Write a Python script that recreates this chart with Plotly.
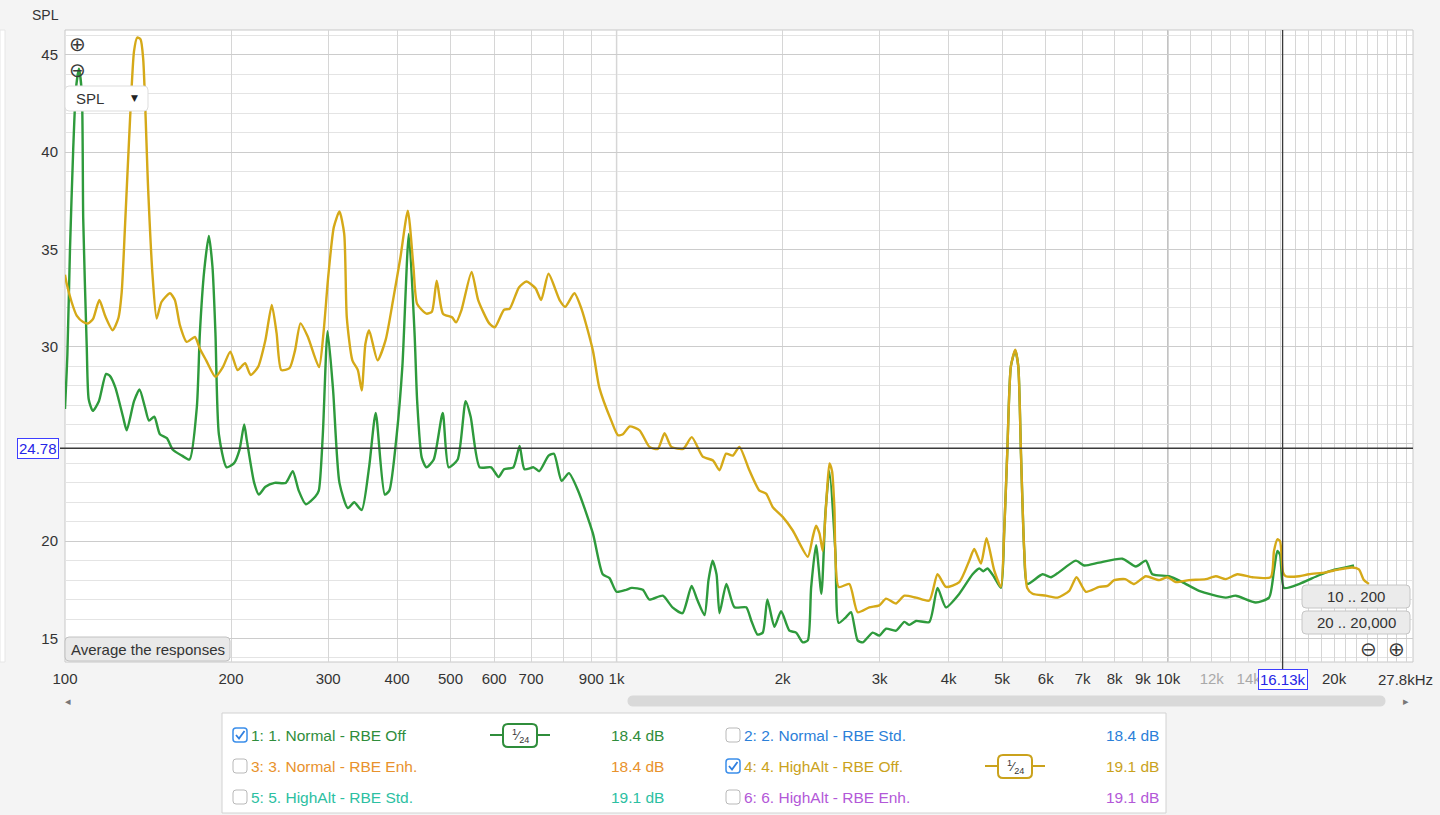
import plotly.graph_objects as go
import math

W, H = 1440, 815
PX0, PX1, PY0, PY1 = 65, 1413, 30, 662
FONT = "Liberation Sans, Arial, sans-serif"

# ---------------- data ----------------
green_freq = [100, 101.0, 102.1, 103.5, 104.7, 106.0, 107.3, 107.9, 109.5, 110.4, 112.3, 115.2, 118.7,
              120.6, 123.4, 127.4, 129.4, 133.4, 136.5, 139.6, 142.0, 145.2, 148.6, 153.0, 156.9, 162.9,
              168.2, 173.4, 175.6, 178.8, 182.3, 185.1, 187.4, 190.1, 196.3, 202.4, 207.2, 211.3, 213.6,
              220.3, 224.6, 230.9, 239.9, 251.4, 258.8, 265.3, 273.3, 284.4, 288.5, 293.4, 299.3, 306.2,
              314.5, 325.7, 334.5, 345.1, 355.9, 365.9, 380.0, 387.3, 399.5, 409.0, 420.1, 430.3, 435.0,
              443.4, 452.2, 466.2, 484.0, 496.1, 515.2, 532.6, 543.9, 564.7, 592.4, 611.2, 625.2, 650.0,
              667.3, 680.8, 707.3, 724.1, 753.0, 770.2, 795.0, 819.6, 851.7, 906.0, 943.9, 971.1, 1000,
              1041, 1065, 1116, 1147, 1213, 1263, 1317, 1368, 1400, 1444, 1468, 1493, 1518, 1537, 1582,
              1636, 1718, 1756, 1801, 1841, 1877, 1933, 1988, 2058, 2116, 2176, 2222, 2253, 2300, 2352,
              2391, 2432, 2494, 2528, 2607, 2662, 2736, 2794, 2913, 2995, 3081, 3212, 3325, 3395, 3491,
              3690, 3819, 3956, 4183, 4421, 4546, 4623, 4705, 4839, 4977, 5045, 5109, 5188, 5283, 5350,
              5411, 5485, 5554, 5920, 6131, 6303, 6805, 7044, 7499, 8265, 8741, 9112, 9367, 10040, 10614,
              11381, 12720, 13264, 14416, 15241, 15560, 15781, 15960, 16226, 17277, 18772, 19846, 20985,
              21730]
green_db = [26.8, 29.6, 35.0, 40.2, 43.3, 44.3, 43.0, 36.6, 30.0, 27.3, 26.7, 27.2, 28.6,
            28.5, 27.9, 26.4, 25.7, 27.2, 27.8, 26.9, 26.2, 26.4, 25.5, 25.3, 24.7, 24.4,
            24.2, 26.9, 30.7, 33.9, 35.7, 34.1, 30.7, 25.5, 23.8, 24.0, 24.7, 26.0, 25.2,
            23.0, 22.4, 22.8, 23.0, 23.0, 23.6, 22.6, 21.9, 22.3, 22.6, 25.5, 30.8, 27.8,
            23.0, 21.7, 22.0, 21.6, 23.8, 26.6, 22.4, 22.6, 25.5, 29.0, 35.8, 30.7, 27.2,
            24.3, 23.8, 24.2, 26.6, 23.8, 24.2, 27.2, 26.4, 23.8, 23.8, 23.3, 23.7, 23.8,
            24.9, 23.7, 23.8, 23.6, 24.4, 24.5, 23.1, 23.5, 22.6, 20.4, 18.3, 18.1, 17.4,
            17.5, 17.6, 17.5, 17.0, 17.2, 16.6, 16.3, 17.7, 17.0, 16.2, 18.0, 19.0, 18.3, 16.3, 17.8,
            16.6, 16.6, 15.9, 15.2, 15.3, 17.0, 15.6, 16.4, 15.4, 15.3, 14.8, 14.9, 17.6, 19.8, 17.3,
            21.4, 23.6, 19.4, 15.8, 16.1, 16.35, 14.9, 14.8, 15.3, 15.15, 15.5, 15.4, 15.85, 15.7, 15.9,
            15.85, 17.6, 16.6, 17.3, 18.3, 18.6, 18.45, 18.6, 18.15, 17.6, 20.5, 24.5, 29.0, 29.8, 29.0,
            24.5, 19.5, 17.8, 18.3, 18.15, 18.35, 19.0, 18.75, 18.9, 19.1, 18.7, 19.0, 18.3, 18.2, 17.9,
            17.45, 17.1, 17.2, 16.85, 17.1, 18.5, 19.5, 19.3, 17.6, 17.8, 18.25, 18.5, 18.65,
            18.75]

yellow_freq = [100, 100.7, 102.8, 105.0, 107.9, 110.2, 112.5, 115.4, 118.2, 122.0, 124.9, 126.7, 128.5,
               131.2, 133.4, 135.2, 137.1, 138.6, 141.5, 144.1, 146.6, 149.6, 155.0, 158.2, 161.6, 166.2,
               172.0, 175.6, 180.3, 187.4, 193.3, 199.4, 205.6, 212.1, 217.0, 223.8, 230.9, 237.1, 241.9,
               246.7, 255.3, 261.2, 267.3, 275.7, 288.8, 294.2, 300.1, 307.2, 314.5, 320.8, 324.3, 331.9,
               339.6, 345.1, 350.5, 355.9, 368.7, 381.4, 393.4, 405.7, 418.4, 428.3, 435.0, 452.2, 462.6,
               472.0, 484.5, 503.8, 511.6, 523.6, 546.0, 561.2, 587.7, 601.6, 625.2, 640.0, 665.3, 686.2,
               713.1, 729.9, 752.7, 788.4, 807.1, 838.7, 865.0, 906.0, 930.6, 978.2, 1006, 1027, 1056,
               1101, 1147, 1188, 1222, 1257, 1321, 1369, 1433, 1496, 1537, 1580, 1624, 1670, 1741, 1816,
               1867, 1920, 2001, 2087, 2222, 2268, 2300, 2333, 2365, 2399, 2432, 2459, 2483, 2528, 2643,
               2736, 2872, 2995, 3081, 3212, 3325, 3491, 3690, 3819, 3956, 4183, 4360, 4452, 4578, 4686,
               4839, 4977, 5045, 5109, 5188, 5283, 5350, 5411, 5485, 5554, 5679, 6003, 6303, 6618, 6823,
               7094, 7499, 7766, 7985, 8360, 8679, 9112, 9632, 9973, 10325, 10914, 11704, 12203, 12720,
               13354, 14216, 15350, 15560, 15781, 15960, 16157, 16340, 17277, 18000, 19310, 20410, 21580,
               22180, 22650, 23130]
yellow_db = [33.7, 33.25, 32.3, 31.6, 31.27, 31.2, 31.45, 32.4, 31.6, 30.85, 31.45, 32.8, 36.25,
             41.7, 45.2, 45.9, 45.8, 44.8, 38.1, 33.7, 31.45, 32.3, 32.75, 32.4, 31.1, 30.25,
             30.5, 29.9, 29.3, 28.45, 28.95, 29.75, 28.8, 29.15, 28.55, 28.95, 30.35, 32.15, 30.7,
             28.8, 28.9, 29.8, 31.2, 30.5, 28.95, 30.7, 33.6, 36.15, 36.95, 35.8, 31.5, 29.3,
             28.8, 27.75, 30.15, 30.85, 29.3, 30.35, 32.4, 34.6, 37.0, 34.1, 32.2, 31.7, 31.8,
             33.4, 31.7, 31.5, 31.25, 31.9, 33.85, 32.4, 31.2, 31.0, 31.9, 31.95, 33.05, 33.35,
             33.0, 32.4, 33.75, 32.4, 32.05, 32.75, 31.9, 29.8, 27.9, 26.2, 25.45, 25.5, 25.9,
             25.7, 24.85, 24.75, 25.55, 24.85, 24.75, 25.35, 24.35, 24.15, 23.65, 24.5, 24.4, 24.85, 23.65, 22.6,
             22.45, 21.75, 21.25, 20.55, 19.2, 20.2, 20.8, 20.4, 19.5, 21.9, 24.0, 23.6, 21.75, 17.65, 17.8,
             16.35, 16.6, 16.7, 17.05, 16.8, 17.2, 17.1, 16.95, 18.3, 17.65, 17.9, 19.0, 19.6, 18.85, 20.15,
             18.5, 17.65, 20.5, 24.5, 29.0, 29.85, 29.0, 24.5, 19.5, 17.6, 17.3, 17.2, 17.1, 17.45, 18.15,
             17.4, 17.65, 17.7, 18.0, 18.05, 17.8, 18.2, 18.0, 18.15, 17.9, 18.0, 18.05, 18.2, 18.05,
             18.3, 18.15, 18.15, 19.5, 20.1, 20.0, 18.4, 18.2, 18.2, 18.3, 18.4, 18.55, 18.65,
             18.55, 18.0, 17.8]

x_grid = ([100, 200, 300, 400, 500, 600, 700, 800, 900] +
          [1000, 2000, 3000, 4000, 5000, 6000, 7000, 8000, 9000] +
          [10000, 11000, 12000, 13000, 14000, 15000, 16000, 17000, 18000, 19000, 20000,
           21000, 22000, 23000, 24000, 25000, 26000, 27000])
x_labels = {100: "100", 200: "200", 300: "300", 400: "400", 500: "500", 600: "600", 700: "700",
            900: "900", 1000: "1k", 2000: "2k", 3000: "3k", 4000: "4k", 5000: "5k", 6000: "6k",
            7000: "7k", 8000: "8k", 9000: "9k", 10000: "10k", 20000: "20k"}
x_labels_dim = {12000: "12k", 14000: "14k"}
y_ticks = [15, 20, 25, 30, 35, 40, 45]
y_ticktext = ["15", "20", "", "30", "35", "40", "45"]   # 25 is hidden behind the cursor box
x_range_hz = [100, 27800]
y_range_db = [13.79, 46.285]
cursor_freq = 16130
cursor_db = 24.78

legend_names = ["1: 1. Normal - RBE Off", "2: 2. Normal - RBE Std.", "3: 3. Normal - RBE Enh.",
                "4: 4. HighAlt - RBE Off.", "5: 5. HighAlt - RBE Std.", "6: 6. HighAlt - RBE Enh."]
legend_levels = ["18.4 dB", "18.4 dB", "18.4 dB", "19.1 dB", "19.1 dB", "19.1 dB"]
legend_colors = ["#2f8d3b", "#2b80d9", "#e8922c", "#caa21c", "#2cc0a2", "#b358d8"]
legend_checked = [True, False, False, True, False, False]

GREEN = "#2e9a3c"
GOLD = "#d5a918"
FS = 15


# ---------------- helpers ----------------
def px(x):
    return x / W


def py(y):
    return 1 - y / H


def rrect(x0, y0, x1, y1, r):
    X = px
    Y = py
    return (f"M {X(x0 + r)},{Y(y0)} L {X(x1 - r)},{Y(y0)} Q {X(x1)},{Y(y0)} {X(x1)},{Y(y0 + r)} "
            f"L {X(x1)},{Y(y1 - r)} Q {X(x1)},{Y(y1)} {X(x1 - r)},{Y(y1)} L {X(x0 + r)},{Y(y1)} "
            f"Q {X(x0)},{Y(y1)} {X(x0)},{Y(y1 - r)} L {X(x0)},{Y(y0 + r)} Q {X(x0)},{Y(y0)} {X(x0 + r)},{Y(y0)} Z")


shapes = []
annotations = []


def box(x0, y0, x1, y1, r=4, fill="#ececec", line="#c4c4c4", lw=1):
    shapes.append(dict(type="path", path=rrect(x0, y0, x1, y1, r), xref="paper", yref="paper",
                       fillcolor=fill, line=dict(color=line, width=lw), layer="above"))


def txt(x, y, s, size=FS, color="#333333", xanchor="left", family=FONT, **kw):
    annotations.append(dict(x=px(x), y=py(y), xref="paper", yref="paper", text=s, showarrow=False,
                            xanchor=xanchor, yanchor="middle",
                            font=dict(size=size, color=color, family=family), **kw))


def pline(x0, y0, x1, y1, color, width=1):
    shapes.append(dict(type="line", xref="paper", yref="paper", x0=px(x0), y0=py(y0), x1=px(x1), y1=py(y1),
                       line=dict(color=color, width=width), layer="above"))


# ---------------- figure ----------------
fig = go.Figure()
fig.add_trace(go.Scatter(x=green_freq, y=green_db, mode="lines",
                         line=dict(color=GREEN, width=2.4, shape="spline", smoothing=0.6),
                         hoverinfo="skip", showlegend=False))
fig.add_trace(go.Scatter(x=yellow_freq, y=yellow_db, mode="lines",
                         line=dict(color=GOLD, width=2.4, shape="spline", smoothing=0.6),
                         hoverinfo="skip", showlegend=False))

ticktext = []
for v in x_grid:
    if v in x_labels:
        ticktext.append(x_labels[v])
    elif v in x_labels_dim:
        ticktext.append(f'<span style="color:#a9a9a9">{x_labels_dim[v]}</span>')
    else:
        ticktext.append("")

xdom = [px(PX0), px(PX1)]
ydom = [py(PY1), py(PY0)]

fig.update_layout(
    width=W, height=H, margin=dict(l=0, r=0, t=0, b=0, autoexpand=False),
    paper_bgcolor="#f4f4f4", plot_bgcolor="#ffffff",
    xaxis=dict(type="log", domain=xdom, range=[math.log10(x_range_hz[0]), math.log10(x_range_hz[1])],
               tickmode="array", tickvals=x_grid, ticktext=ticktext, tickangle=0, automargin=False,
               showgrid=True, gridcolor="#d6d6d6", gridwidth=1, zeroline=False, showline=False,
               ticks="", ticklabelstandoff=6,
               tickfont=dict(size=FS, color="#333333", family=FONT), fixedrange=True),
    yaxis=dict(domain=ydom, range=y_range_db, tickmode="array", tickvals=y_ticks, ticktext=y_ticktext,
               automargin=False,
               showgrid=True, gridcolor="#cccccc", gridwidth=1, zeroline=False, showline=False,
               ticks="", ticklabelstandoff=6,
               minor=dict(dtick=1, tick0=0, showgrid=True, gridcolor="#e4e4e4", gridwidth=1),
               tickfont=dict(size=FS, color="#333333", family=FONT), fixedrange=True),
)

# darker decade lines
for f, c in [(1000, "#9a9a9a"), (10000, "#8a8a8a")]:
    shapes.append(dict(type="line", xref="x", yref="paper", x0=f, x1=f, y0=ydom[0], y1=ydom[1],
                       line=dict(color=c, width=1.2), layer="below"))
# plot border
shapes.append(dict(type="rect", xref="paper", yref="paper", x0=xdom[0], x1=xdom[1], y0=ydom[0], y1=ydom[1],
                   line=dict(color="#c8c8c8", width=1), layer="below"))

# cursor lines
shapes.append(dict(type="line", xref="x", yref="paper", x0=cursor_freq, x1=cursor_freq,
                   y0=py(670), y1=ydom[1], line=dict(color="#3a3a3a", width=1.3), layer="above"))
shapes.append(dict(type="line", xref="paper", yref="y", x0=px(60), x1=xdom[1], y0=cursor_db, y1=cursor_db,
                   line=dict(color="#3a3a3a", width=1.3), layer="above"))

# cursor value boxes
annotations.append(dict(x=px(37.5), y=cursor_db, xref="paper", yref="y", text=f"{cursor_db:.2f}",
                        showarrow=False, xanchor="center", yanchor="middle",
                        font=dict(size=FS, color="#2525e6", family=FONT),
                        bgcolor="#ffffff", bordercolor="#3d3dff", borderwidth=1, borderpad=1))
annotations.append(dict(x=math.log10(cursor_freq), y=py(679), xref="x", yref="paper",
                        text=f"{cursor_freq / 1000:.2f}k", showarrow=False, xanchor="center", yanchor="middle",
                        font=dict(size=FS, color="#2525e6", family=FONT),
                        bgcolor="#ffffff", bordercolor="#3d3dff", borderwidth=1, borderpad=1))
# 27.8kHz end label
txt(1405, 679, "27.8kHz", xanchor="center")

# axis title
txt(45, 15, "SPL", size=14, xanchor="center")

# in-plot controls
txt(77, 44, "⊕", size=20, color="#3a3a3a", xanchor="center", family="DejaVu Sans")
txt(77, 70, "⊖", size=20, color="#3a3a3a", xanchor="center", family="DejaVu Sans")
box(65, 86, 148, 111, r=4, fill="#ffffff", line="#dddddd")
txt(74, 99, "SPL", size=FS)
txt(134, 98, "▼", size=9, color="#222222", xanchor="center", family="DejaVu Sans")

box(65, 637, 230, 661, r=4, fill="#e9e9e9", line="#c2c2c2")
txt(147.5, 649.5, "Average the responses", xanchor="center")

box(1302, 585, 1410, 608, r=4, fill="#ebebeb", line="#c6c6c6")
txt(1356, 596.5, "10 .. 200", size=FS, xanchor="center")
box(1302, 611, 1410, 634, r=4, fill="#ebebeb", line="#c6c6c6")
txt(1356, 622.5, "20 .. 20,000", size=FS, xanchor="center")
txt(1368, 649, "⊖", size=20, color="#3a3a3a", xanchor="center", family="DejaVu Sans")
txt(1396, 649, "⊕", size=20, color="#3a3a3a", xanchor="center", family="DejaVu Sans")

# scroll bar
box(628, 696, 1385, 706, r=5, fill="#d9d9d9", line="#d9d9d9")
txt(68, 701, "◂", size=11, color="#777777", xanchor="center", family="DejaVu Sans")
txt(1406, 701, "▸", size=11, color="#777777", xanchor="center", family="DejaVu Sans")

# left side strip
shapes.append(dict(type="rect", xref="paper", yref="paper", x0=0, x1=px(5), y0=py(662), y1=py(30),
                   fillcolor="#ffffff", line=dict(color="#e6e6e6", width=1), layer="above"))

# legend panel
shapes.append(dict(type="rect", xref="paper", yref="paper", x0=px(222), x1=px(1166), y0=py(813), y1=py(713),
                   fillcolor="#ffffff", line=dict(color="#d2d2d2", width=1), layer="above"))

row_y = [735, 766, 797]
col_cb = [240, 733]
col_name = [249, 742]
col_level = [609, 1104]
col_icon = [520, 1015]
for i, name in enumerate(legend_names):
    col = i % 2
    row = i // 2
    y = row_y[row]
    cx = col_cb[col]
    c = legend_colors[i]
    if legend_checked[i]:
        box(cx - 7, y - 7, cx + 7, y + 7, r=3, fill="#ffffff", line="#3b8eea", lw=1.5)
        shapes.append(dict(type="path", xref="paper", yref="paper",
                           path=f"M {px(cx - 4)},{py(y)} L {px(cx - 1)},{py(y + 3.5)} L {px(cx + 4.5)},{py(y - 4)}",
                           line=dict(color="#2f7fe0", width=1.8), layer="above"))
        ix = col_icon[col]
        pline(ix - 30, y, ix + 30, y, c, 2)
        box(ix - 17, y - 11, ix + 17, y + 12, r=5, fill="#ffffff", line=c, lw=2)
        txt(ix, y + 1, "<sup>1</sup>⁄<sub>24</sub>", size=13, color="#333333", xanchor="center")
    else:
        box(cx - 7, y - 7, cx + 7, y + 7, r=3, fill="#ffffff", line="#b9b9b9", lw=1)
    txt(col_name[col], y, name, size=15.5, color=c)
    txt(col_level[col], y, legend_levels[i], size=15.5, color=c)

fig.update_layout(shapes=shapes, annotations=annotations)
fig.write_html("out.html")
